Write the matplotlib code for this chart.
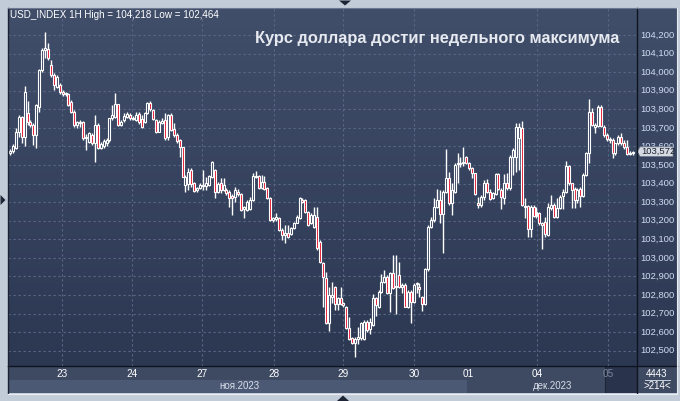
import numpy as np
import matplotlib
matplotlib.use("Agg")
import matplotlib.pyplot as plt
from matplotlib.colors import LinearSegmentedColormap
from matplotlib.patches import Polygon, Rectangle

plt.rcParams['font.family'] = ['Liberation Sans', 'DejaVu Sans']

# ---------------- data (USD_INDEX, 1H candles) ----------------
opens = [
 103.563,103.575,103.593,103.680,103.760,103.653,103.778,103.733,103.715,103.662,
 103.814,104.012,104.119,104.125,104.039,103.985,103.922,103.931,103.895,103.881,
 103.881,103.841,103.787,103.715,103.730,103.730,103.644,103.626,103.662,103.617,
 103.715,103.590,103.604,103.617,103.635,103.751,103.760,103.827,103.715,103.742,
 103.760,103.769,103.755,103.742,103.773,103.748,103.733,103.778,103.832,103.796,
 103.742,103.680,103.728,103.742,
 103.653,103.769,103.692,103.662,103.635,103.595,103.392,103.398,103.473,103.401,
 103.365,103.374,103.387,103.387,103.392,103.434,103.473,103.357,103.401,103.365,
 103.365,103.357,103.333,103.330,103.357,103.344,103.261,103.258,103.261,103.312,
 103.434,103.441,103.374,103.410,103.374,103.321,103.204,103.208,103.213,103.150,
 103.123,103.132,103.128,103.159,103.190,103.213,103.312,103.312,103.249,103.186,
 103.168,
 103.222,103.088,102.974,102.890,102.648,102.791,102.845,102.752,102.782,102.755,
 102.737,102.621,102.567,102.540,102.562,102.567,102.562,102.657,102.615,102.639,
 102.782,102.737,102.818,102.872,102.899,102.809,102.917,102.845,102.908,102.845,
 102.854,102.737,102.818,102.764,102.860,102.845,102.791,102.752,102.939,103.165,
 103.204,103.276,103.312,103.237,103.357,103.429,103.294,103.357,103.506,103.506,
 103.509,103.542,103.513,103.482,103.455,
 103.294,103.285,103.326,103.405,103.357,103.321,103.344,103.450,103.365,103.321,
 103.401,103.374,103.541,103.545,103.644,103.700,103.276,103.279,103.154,103.276,
 103.225,103.243,103.186,103.195,103.123,103.267,103.285,103.218,103.267,103.333,
 103.357,103.495,103.401,103.369,103.312,103.369,103.333,103.446,103.563,103.787,
 103.703,103.710,103.811,103.707,103.662,103.638,103.635,103.563,103.617,103.653,
 103.620,103.595,103.559,103.565]
highs = [
 103.586,103.611,103.698,103.769,103.766,103.926,103.845,103.742,103.724,103.826,
 104.015,104.128,104.218,104.155,104.066,103.994,103.985,103.940,103.904,103.895,
 103.886,103.850,103.796,103.737,103.742,103.737,103.665,103.680,103.671,103.769,
 103.724,103.622,103.640,103.644,103.755,103.823,103.886,103.830,103.742,103.778,
 103.784,103.778,103.766,103.784,103.784,103.769,103.787,103.841,103.845,103.802,
 103.748,103.742,103.751,103.778,
 103.775,103.778,103.724,103.671,103.638,103.599,103.446,103.482,103.482,103.410,
 103.383,103.401,103.473,103.437,103.446,103.522,103.477,103.410,103.428,103.428,
 103.374,103.365,103.344,103.383,103.369,103.351,103.279,103.312,103.330,103.455,
 103.470,103.446,103.446,103.441,103.380,103.326,103.222,103.240,103.222,103.159,
 103.177,103.177,103.168,103.195,103.231,103.326,103.321,103.315,103.254,103.240,
 103.276,
 103.276,103.097,102.980,102.926,102.845,102.872,102.849,102.791,102.845,102.764,
 102.741,102.684,102.576,102.572,102.630,102.657,102.666,102.666,102.675,102.806,
 102.791,102.827,102.913,102.935,102.908,102.926,103.016,103.016,102.980,102.863,
 102.863,102.827,102.827,102.863,102.872,102.863,102.795,102.944,103.177,103.219,
 103.321,103.369,103.366,103.366,103.585,103.464,103.402,103.509,103.563,103.545,
 103.599,103.549,103.518,103.491,103.459,
 103.330,103.339,103.419,103.423,103.369,103.357,103.455,103.455,103.374,103.452,
 103.459,103.554,103.590,103.724,103.724,103.737,103.321,103.285,103.285,103.285,
 103.276,103.249,103.195,103.222,103.294,103.339,103.294,103.321,103.339,103.369,
 103.523,103.500,103.405,103.383,103.374,103.380,103.455,103.572,103.854,103.805,
 103.724,103.823,103.823,103.716,103.671,103.653,103.644,103.620,103.662,103.671,
 103.635,103.635,103.577,103.577]
lows = [
 103.554,103.563,103.586,103.653,103.617,103.604,103.715,103.707,103.608,103.590,
 103.787,104.003,104.074,104.066,103.976,103.904,103.913,103.882,103.873,103.870,
 103.818,103.778,103.707,103.701,103.707,103.635,103.581,103.617,103.608,103.518,
 103.586,103.586,103.593,103.604,103.626,103.742,103.751,103.712,103.712,103.733,
 103.751,103.744,103.741,103.737,103.723,103.701,103.724,103.773,103.791,103.742,
 103.671,103.676,103.723,103.635,
 103.635,103.685,103.653,103.617,103.545,103.434,103.357,103.365,103.383,103.357,
 103.357,103.369,103.365,103.365,103.387,103.428,103.321,103.351,103.348,103.362,
 103.339,103.276,103.231,103.303,103.333,103.254,103.213,103.254,103.258,103.308,
 103.428,103.369,103.369,103.365,103.315,103.200,103.195,103.200,103.147,103.096,
 103.078,103.105,103.123,103.154,103.186,103.208,103.297,103.243,103.172,103.182,
 103.159,
 103.043,102.974,102.737,102.644,102.608,102.755,102.720,102.720,102.746,102.737,
 102.615,102.558,102.536,102.464,102.536,102.558,102.558,102.603,102.590,102.633,
 102.687,102.728,102.813,102.867,102.806,102.711,102.831,102.698,102.836,102.809,
 102.734,102.728,102.648,102.755,102.809,102.791,102.716,102.746,102.931,103.159,
 103.195,103.267,103.186,103.025,103.348,103.285,103.231,103.351,103.402,103.491,
 103.495,103.506,103.473,103.429,103.339,
 103.267,103.276,103.312,103.348,103.312,103.315,103.339,103.365,103.261,103.290,
 103.365,103.365,103.446,103.464,103.473,103.279,103.213,103.114,103.114,103.222,
 103.213,103.177,103.046,103.114,103.118,103.258,103.213,103.213,103.261,103.261,
 103.348,103.392,103.267,103.267,103.294,103.276,103.326,103.441,103.509,103.710,
 103.674,103.707,103.703,103.653,103.631,103.620,103.536,103.554,103.608,103.608,
 103.584,103.554,103.554,103.554]
closes = [
 103.575,103.604,103.680,103.760,103.653,103.895,103.733,103.715,103.662,103.823,
 104.012,104.119,104.128,104.074,103.985,103.931,103.976,103.895,103.882,103.886,
 103.823,103.787,103.715,103.730,103.724,103.644,103.653,103.671,103.617,103.715,
 103.590,103.611,103.629,103.635,103.751,103.769,103.827,103.715,103.733,103.766,
 103.773,103.751,103.748,103.769,103.730,103.707,103.778,103.832,103.802,103.748,
 103.676,103.733,103.737,103.644,
 103.769,103.689,103.662,103.631,103.595,103.437,103.437,103.464,103.398,103.362,
 103.374,103.392,103.392,103.401,103.441,103.518,103.357,103.398,103.365,103.392,
 103.348,103.321,103.321,103.365,103.344,103.258,103.272,103.303,103.312,103.441,
 103.441,103.374,103.410,103.369,103.321,103.204,103.213,103.222,103.150,103.123,
 103.132,103.114,103.159,103.186,103.222,103.321,103.303,103.249,103.177,103.231,
 103.231,
 103.052,102.980,102.899,102.648,102.800,102.800,102.752,102.782,102.752,102.746,
 102.621,102.562,102.540,102.562,102.576,102.648,102.657,102.612,102.657,102.782,
 102.746,102.818,102.872,102.899,102.809,102.917,102.836,102.842,102.845,102.854,
 102.737,102.818,102.764,102.854,102.867,102.831,102.752,102.939,103.165,103.204,
 103.276,103.312,103.237,103.357,103.429,103.294,103.366,103.500,103.513,103.509,
 103.518,103.513,103.482,103.455,103.344,
 103.285,103.330,103.405,103.357,103.315,103.348,103.450,103.373,103.330,103.401,
 103.374,103.541,103.581,103.707,103.703,103.285,103.279,103.154,103.276,103.225,
 103.249,103.186,103.177,103.129,103.272,103.285,103.218,103.267,103.326,103.357,
 103.495,103.401,103.365,103.312,103.365,103.333,103.446,103.563,103.787,103.716,
 103.716,103.811,103.710,103.662,103.638,103.635,103.563,103.617,103.653,103.620,
 103.595,103.559,103.567,103.572]

price_ticks = [102.5, 102.6, 102.7, 102.8, 102.9, 103.0, 103.1, 103.2, 103.3,
               103.4, 103.5, 103.6, 103.7, 103.8, 103.9, 104.0, 104.1, 104.2]
day_pos = [17.8, 41.7, 65.8, 90.3, 113.9, 138.1, 156.6, 180.2, 204.4]
day_labels = ['23', '24', '27', '28', '29', '30', '01', '04', '05']
day_grid = [True, True, True, True, True, True, False, True, True]
month_labels = ['ноя.2023', 'дек.2023']
month_pos = [78.6, 185.6]
month_start = 156.3
current_day_start = 203.4
last_price = 103.572
title = 'Курс доллара достиг недельного максимума'
header = 'USD_INDEX 1H High = 104,218 Low = 102,464'
corner_top = '4443'
corner_bottom = '>214<'

# ---------------- figure ----------------
W, H = 680, 401
fig = plt.figure(figsize=(W / 100, H / 100), dpi=100)
fig.patch.set_facecolor('#c2ccd8')

def fx(px):
    return px / W

def fy(py):
    return 1 - py / H

XMIN, XMAX = -0.68, 214.36
YMIN, YMAX = 102.418, 104.345

ax = fig.add_axes([fx(8), fy(366), fx(629), 358 / H])
axp = fig.add_axes([fx(637), fy(366), fx(40), 358 / H])
axd = fig.add_axes([fx(8), fy(393), fx(629), 27 / H])
axc = fig.add_axes([fx(637), fy(393), fx(40), 27 / H])

grad = LinearSegmentedColormap.from_list('bg', ['#2c3852', '#414e6a'])
for a, xl in ((ax, (XMIN, XMAX)), (axp, (0, 1))):
    a.imshow(np.linspace(0, 1, 256).reshape(-1, 1), extent=[xl[0], xl[1], YMIN, YMAX],
             aspect='auto', cmap=grad, origin='lower', zorder=0)
    a.set_xlim(*xl)
    a.set_ylim(YMIN, YMAX)
    a.set_xticks([])
    a.set_yticks([])
    for s in a.spines.values():
        s.set_visible(False)

# grid
for v in price_ticks:
    ax.axhline(v, color='#5b6885', lw=0.8, ls=(0, (2, 2.5)), zorder=1)
for p, g in zip(day_pos, day_grid):
    if g:
        ax.axvline(p, color='#5b6885', lw=0.8, ls=(0, (2, 2.5)), zorder=1)

# candles
n = len(closes)
idx = np.arange(n)
ax.vlines(idx, lows, highs, color='white', lw=1.0, zorder=2)
for i in range(n):
    o, c = opens[i], closes[i]
    bottom = min(o, c)
    h = max(abs(c - o), 0.004)
    fc = '#e4112b' if c < o else '#34405b'
    ax.bar(i, h, bottom=bottom, width=0.68, facecolor=fc, edgecolor='white',
           linewidth=0.8, zorder=3)

# header texts
fig.text(fx(10), fy(15), header, color='white', fontsize=7.1, va='center', ha='left')
fig.text(fx(619), fy(39), title, color='#e6eaf0', fontsize=11.8, fontweight='bold',
         va='center', ha='right')

# price axis
for v in price_ticks:
    axp.text(0.09, v, f'{v:.3f}'.replace('.', ','), color='#cfdcf2', fontsize=6.8,
             va='center', ha='left', zorder=3)
hh = 0.026
box = Polygon([[0.0, last_price], [0.08, last_price + hh], [0.9, last_price + hh],
               [0.9, last_price - hh], [0.08, last_price - hh]], closed=True,
              facecolor='#d6dae2', edgecolor='#6f7889', lw=0.6, zorder=5)
axp.add_patch(box)
axp.text(0.1, last_price, f'{last_price:.3f}'.replace('.', ','), color='#1c2333',
         fontsize=6.8, va='center', ha='left', zorder=6)

# date strip
axd.set_xlim(XMIN, XMAX)
axd.set_ylim(0, 1)
axd.set_facecolor('#3e4962')
axd.set_xticks([])
axd.set_yticks([])
for s in axd.spines.values():
    s.set_visible(False)
axd.add_patch(Rectangle((XMIN, 0), month_start - XMIN, 0.48, facecolor='#4c5975',
                        edgecolor='none', zorder=1))
axd.add_patch(Rectangle((current_day_start, 0), XMAX - current_day_start, 1,
                        facecolor='#29334c', edgecolor='none', zorder=2))
axd.plot([current_day_start, current_day_start], [0.05, 1], color='#1c2436', lw=0.8, zorder=3)
for p, lab in zip(day_pos, day_labels):
    col = '#7c8699' if p >= current_day_start else 'white'
    axd.text(p, 0.70, lab, color=col, fontsize=7.2, ha='center', va='center', zorder=4)
for p, lab in zip(month_pos, month_labels):
    axd.text(p, 0.25, lab, color='#d8dfea', fontsize=7.0, ha='center', va='center', zorder=4)

# corner box
axc.set_xlim(0, 1)
axc.set_ylim(0, 1)
axc.set_facecolor('#3e4962')
axc.set_xticks([])
axc.set_yticks([])
for s in axc.spines.values():
    s.set_visible(False)
axc.text(0.5, 0.72, corner_top, color='white', fontsize=7.0, ha='center', va='center')
axc.plot([0.2, 0.82], [0.48, 0.48], color='#c8d0dc', lw=0.7)
axc.text(0.5, 0.26, corner_bottom, color='white', fontsize=7.0, ha='center', va='center')

# frame lines
def fline(x0, y0, x1, y1, color='#0e1420', lw=1.0):
    fig.add_artist(plt.Line2D([fx(x0), fx(x1)], [fy(y0), fy(y1)], color=color, lw=lw,
                              transform=fig.transFigure, zorder=10))

fline(8, 366, 677, 366)
fline(637, 8, 637, 393)
fline(7.5, 8, 7.5, 393, color='#1b2233')
fline(7.5, 8, 677, 8, color='#6d7890', lw=0.8)
fline(677, 8, 677, 393, color='#e8edf3', lw=0.8)
fline(7.5, 393.5, 677, 393.5, color='#e8edf3', lw=0.8)

# small triangles on the frame
def ftri(pts, color='#1e2536'):
    fig.add_artist(Polygon([[fx(a), fy(b)] for a, b in pts], closed=True,
                           transform=fig.transFigure, facecolor=color, edgecolor='none',
                           zorder=11))

ftri([(339, 0.5), (351, 0.5), (345, 5.5)])
ftri([(337, 401), (349, 401), (343, 395.5)])
ftri([(0.5, 195), (0.5, 205), (5.5, 200)])

fig.savefig('out.png', dpi=100, facecolor=fig.get_facecolor())
